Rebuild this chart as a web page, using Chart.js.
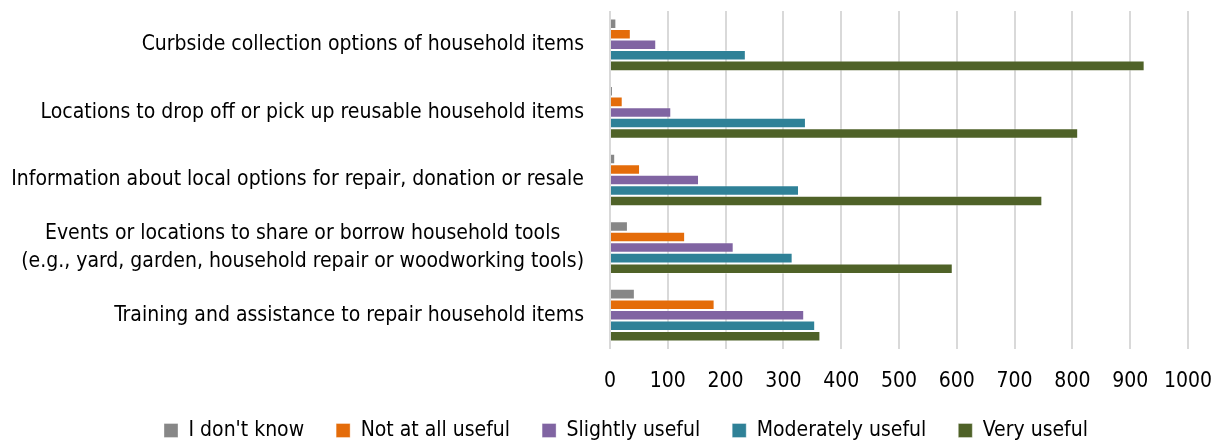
<!DOCTYPE html>
<html>
<head>
<meta charset="utf-8">
<script src="https://cdn.jsdelivr.net/npm/chart.js@4/dist/chart.umd.min.js"></script>
<style>
    body { margin: 0; background: #fff; }
    #wrap { width: 1224px; height: 445px; position: relative; }
</style>
</head>
<body>
<div id="wrap"><canvas id="usefulChart"></canvas></div>
<script>
const categories = [
    ["Curbside collection options of household items"],
    ["Locations to drop off or pick up reusable household items"],
    ["Information about local options for repair, donation or resale"],
    ["Events or locations to share or borrow household tools", "(e.g., yard, garden, household repair or woodworking tools)"],
    ["Training and assistance to repair household items"]
];
const seriesNames = ["I don't know", "Not at all useful", "Slightly useful", "Moderately useful", "Very useful"];
const dontKnow = [11, 5, 9, 31, 43];
const notAtAllUseful = [36, 22, 52, 130, 181];
const slightlyUseful = [80, 106, 154, 214, 336];
const moderatelyUseful = [235, 339, 327, 316, 355];
const veryUseful = [925, 810, 748, 593, 364];
const xTicks = [0, 100, 200, 300, 400, 500, 600, 700, 800, 900, 1000];

const colors = ["#878787", "#e46c0a", "#8064a2", "#2f8197", "#4f6228"];
const FONT = '"Liberation Sans Narrow", "Arial Narrow", "DejaVu Sans Condensed", sans-serif';

// draws the category labels: block right aligned, lines centred inside the block
const categoryLabels = {
    id: "categoryLabels",
    afterLayout(chart) {
        // the legend in the original sits a bit right of the canvas centre
        chart.legend.left += 32;
        chart.legend.right += 32;
    },
    afterDraw(chart) {
        const ctx = chart.ctx;
        const yScale = chart.scales.y;
        const right = chart.chartArea.left - 26;
        ctx.save();
        ctx.font = "21px " + FONT;
        ctx.fillStyle = "#000";
        ctx.textAlign = "center";
        ctx.textBaseline = "middle";
        categories.forEach((lines, i) => {
            const widest = Math.max(...lines.map(l => ctx.measureText(l).width));
            const cx = right - widest / 2;
            const cy = yScale.getPixelForValue(i);
            const lineH = 28;
            lines.forEach((line, j) => {
                ctx.fillText(line, cx, cy + (j - (lines.length - 1) / 2) * lineH);
            });
        });
        ctx.restore();
    }
};

const values = [dontKnow, notAtAllUseful, slightlyUseful, moderatelyUseful, veryUseful];

new Chart(document.getElementById("usefulChart"), {
    type: "bar",
    data: {
        labels: categories.map(c => c.join(" ")),
        datasets: seriesNames.map((name, i) => ({
            label: name,
            data: values[i],
            backgroundColor: colors[i],
            borderColor: "rgba(255,255,255,0.35)",
            borderWidth: 1,
            categoryPercentage: 0.78,
            barPercentage: 1
        }))
    },
    options: {
        indexAxis: "y",
        responsive: true,
        maintainAspectRatio: false,
        animation: false,
        layout: { padding: { top: 11, right: 36, bottom: -6, left: 0 } },
        scales: {
            x: {
                min: 0,
                max: 1000,
                afterBuildTicks: scale => { scale.ticks = xTicks.map(v => ({ value: v })); },
                afterFit: scale => {
                    scale.height = 39;
                    scale.paddingLeft = 0;
                    scale.paddingRight = 0;
                },
                grid: { color: "#d9d9d9", lineWidth: 2, drawTicks: false },
                border: { display: false },
                ticks: {
                    padding: 20,
                    maxRotation: 0,
                    minRotation: 0,
                    autoSkip: false,
                    color: "#000",
                    font: { family: FONT, size: 21 },
                    callback: value => String(value)
                }
            },
            y: {
                afterFit: scale => { scale.width = 610; },
                grid: { display: false },
                border: { display: false },
                ticks: { display: false }
            }
        },
        plugins: {
            legend: {
                position: "bottom",
                labels: {
                    boxWidth: 14,
                    boxHeight: 14,
                    padding: 32,
                    color: "#000",
                    font: { family: FONT, size: 21 }
                }
            },
            tooltip: { enabled: false }
        }
    },
    plugins: [categoryLabels]
});
</script>
</body>
</html>
